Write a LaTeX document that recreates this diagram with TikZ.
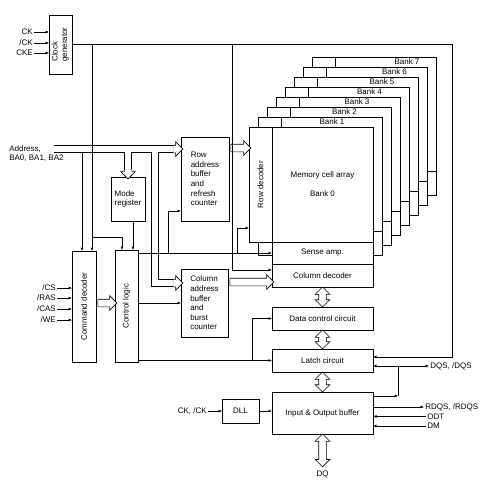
\documentclass[tikz,border=0pt]{standalone}
\usepackage{fontspec}
\setmainfont{Liberation Sans}
\usepackage{graphicx}
\usetikzlibrary{arrows.meta,positioning,calc,shapes.arrows}
\newcommand{\dramfont}{\fontsize{8}{9.6}\selectfont}

\begin{document}
\begin{tikzpicture}[
  x=1pt,y=-1pt,line width=0.6pt,font=\dramfont,
  blk/.style={draw,fill=white,inner sep=0pt,outer sep=0pt,align=center},
  lbl/.style={inner sep=1pt},
  ar/.style={-{Latex[length=3.5pt,width=3pt]}},
  biar/.style={{Latex[length=3.5pt,width=3pt]}-{Latex[length=3.5pt,width=3pt]}},
  busarrow/.style={single arrow,draw,fill=white,inner xsep=0pt,inner ysep=3.5pt,minimum width=14pt,single arrow head extend=3.5pt},
  bibusarrow/.style={double arrow,draw,fill=white,inner xsep=0pt,inner ysep=3.5pt,minimum width=14pt,double arrow head extend=3.5pt},
  bus/.style={to path={let \p1=(\tikztostart),\p2=(\tikztotarget),
      \n1={veclen(\x2-\x1,\y2-\y1)},\n2={atan2(\y2-\y1,\x2-\x1)} in
      node[busarrow,minimum height=\n1,rotate=\n2] at ($(\p1)!.5!(\p2)$) {} (\tikztotarget)}},
  bibus/.style={to path={let \p1=(\tikztostart),\p2=(\tikztotarget),
      \n1={veclen(\x2-\x1,\y2-\y1)},\n2={atan2(\y2-\y1,\x2-\x1)} in
      node[bibusarrow,minimum height=\n1,rotate=\n2] at ($(\p1)!.5!(\p2)$) {} (\tikztotarget)}},
  busline/.style={double,double distance=6.4pt}
]
\useasboundingbox (0,0) rectangle (493,480);

% banks behind bank 0
\foreach \i in {7,6,...,1}{
  \begin{scope}[shift={(9*\i,-10*\i)}]
    \draw[fill=white] (249,127) rectangle (373,265);
    \draw (249,241) -- (373,241) (272,127) -- (272,241);
  \end{scope}
  \node at ({332+12.5*(\i-1)},{122-10*(\i-1)}) {Bank \i};
}

% blocks
\node[blk,minimum width=23,minimum height=59] (clk) at (60.5,44.5)
  {\rotatebox{90}{\begin{tabular}{@{}l@{}}Clock\\generator\end{tabular}}};
\node[blk,minimum width=34,minimum height=44,align=left] (mode) at (128,199) {Mode\\register};
\node[blk,minimum width=24,minimum height=111] (cmd) at (84,306.5) {\rotatebox{90}{Command decoder}};
\node[blk,minimum width=23,minimum height=112] (ctl) at (126.5,306) {\rotatebox{90}{Control logic}};
\node[blk,minimum width=48,minimum height=84,align=left] (rowbuf) at (205,179)
  {Row\\address\\buffer\\and\\refresh\\counter};
\node[blk,minimum width=47,minimum height=68,align=left] (colbuf) at (204.5,303)
  {Column\\address\\buffer\\and\\burst\\counter};
\node[blk,minimum width=23,minimum height=115] (rowdec) at (260.5,184.5) {\rotatebox{90}{Row decoder}};
\node[blk,minimum width=101,minimum height=115,right=0pt of rowdec] (array) {Memory cell array\\[9.4pt]Bank 0};
\node[blk,minimum width=101,minimum height=22,below=0pt of array] (sense) {Sense amp.};
\node[blk,minimum width=101,minimum height=23,below=0pt of sense] (coldec) {Column decoder};
\node[blk,minimum width=101,minimum height=23,below=20pt of coldec] (datactl) {Data control circuit};
\node[blk,minimum width=101,minimum height=23,below=19pt of datactl] (latch) {Latch circuit};
\node[blk,minimum width=101,minimum height=42,below=20pt of latch] (io) {Input \& Output buffer};
\node[blk,minimum width=37,minimum height=24] (dll) at (240.5,411) {DLL};
\node (dq) at (322.5,474) {DQ};

% buses
\coordinate (addr) at (54,149);
\coordinate (acol) at (155,149);
\coordinate (rbi) at ([yshift=30pt]rowbuf.west);
\coordinate (cbi) at ([yshift=20pt]colbuf.west);
\coordinate (rbo) at ([yshift=31pt]rowbuf.east);
\coordinate (cbo) at ([yshift=21pt]colbuf.east);
\coordinate (cdo) at ([yshift=3.5pt]cmd.east);
\path[bus] ([xshift=-10pt]rbi) to (rbi);
\path[bus] ([yshift=10pt]mode.north) to (mode.north);
\path[bus] ([xshift=-10pt]cbi) to (cbi);
\draw[busline] (addr) -- ([xshift=-8pt]rbi)
  (addr -| mode.north) -- ([yshift=8pt]mode.north)
  (acol) |- ([xshift=-8pt]cbi);
\path[bus] (rbo) to (rbo -| rowdec.west);
\path[bus] (cbo) to (cbo -| coldec.west);
\path[bus] (cdo) to (cdo -| ctl.west);
\path[bibus] (coldec.south) to (datactl.north);
\path[bibus] (datactl.south) to (latch.north);
\path[bibus] (latch.south) to (io.north);
\path[bibus] (io.south) to (dq.north);

% inputs
\node[lbl,anchor=east] (ck) at (34,32) {CK};
\node[lbl,anchor=east] (nck) at (34,43) {/CK};
\node[lbl,anchor=east] (cke) at (34,53) {CKE};
\foreach \s in {ck,nck,cke} \draw[ar] (\s) -- (\s -| clk.west);
\node[lbl,anchor=west,align=left] (addrtxt) at (8,153.5) {Address,\\BA0, BA1, BA2};
\node[lbl,anchor=east] (cs) at (57,288) {/CS};
\node[lbl,anchor=east] (ras) at (57,298) {/RAS};
\node[lbl,anchor=east] (cas) at (57,309) {/CAS};
\node[lbl,anchor=east] (we) at (57,320) {/WE};
\foreach \s in {cs,ras,cas,we} \draw[ar] (\s) -- (\s -| cmd.west);

% clock tree
\coordinate (clkloop) at (452,357);
\coordinate (ckb) at (92,44.5);
\coordinate (ckc) at (92,237);
\coordinate (ctlck) at (122,237);
\coordinate (ckd) at (232,44.5);
\draw[ar] (clk.east) -| (clkloop) -- (clkloop -| latch.east);
\draw[ar] (ckb) -- (ckb |- cmd.north);
\draw[ar] (ckc) -- (ctlck) -- (ctlck |- ctl.north);
\draw[ar] (ckd) |- ([yshift=5.5pt]coldec.west);
\coordinate (acmd) at (82,152.5);
\draw[ar] (acmd) -- (acmd |- cmd.north);
\coordinate (mdo) at ([xshift=5pt]mode.south);
\draw[ar] (mdo) -- (mdo |- ctl.north);

% control logic outputs
\coordinate (j2) at (168,253);
\coordinate (j3) at (237,253);
\coordinate (j4) at (252,360.5);
\draw[ar] (ctl.east |- sense.west) -- (sense.west);
\draw[ar] (j2) |- ([yshift=-32pt]rowbuf.west);
\draw[ar] (j3) |- ([yshift=-43.5pt]rowdec.west);
\draw[ar] (ctl.east |- colbuf.west) -- (colbuf.west);
\draw[ar] (ctl.east |- latch.west) -- (latch.west);
\draw[ar] (j4) |- (datactl.west);

% DLL and data pins
\node[lbl,anchor=east] (ckdll) at (208,411) {CK, /CK};
\draw[ar] (ckdll) -- (dll);
\draw[ar] (dll) -- (dll -| io.west);
\node[lbl,anchor=west] (dqs) at (429,366) {DQS, /DQS};
\draw[biar] (latch.east |- dqs.west) -- (dqs.west);
\coordinate (dqsj) at (398,366);
\coordinate (ioq) at ([yshift=17pt]io.east);
\draw[ar] (ioq) -- (ioq -| dqsj);
\draw (dqsj) -- (ioq -| dqsj);
\node[lbl,anchor=west] (rdqs) at (424,407) {RDQS, /RDQS};
\draw[ar] (io.east |- rdqs.west) -- (rdqs.west);
\node[lbl,anchor=west] (odt) at (426,416.5) {ODT};
\node[lbl,anchor=west] (dm) at (426,426) {DM};
\draw[ar] (odt.west) -- (odt.west -| io.east);
\draw[ar] (dm.west) -- (dm.west -| io.east);
\end{tikzpicture}
\end{document}
